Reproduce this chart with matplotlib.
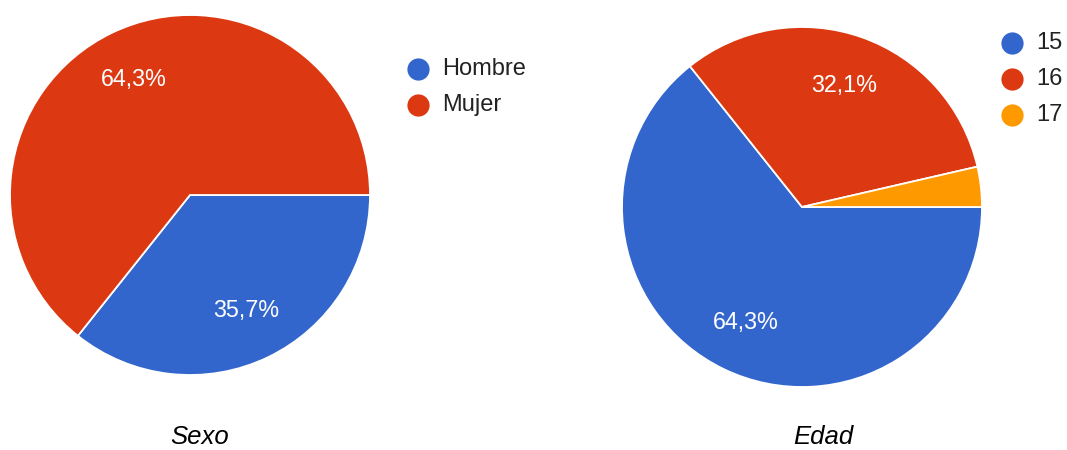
import matplotlib
matplotlib.use("Agg")
import matplotlib.pyplot as plt

sexo_labels = ["Hombre", "Mujer"]
sexo_values = [35.7, 64.3]
edad_labels = ["15", "16", "17"]
edad_values = [64.3, 32.1, 3.6]
titles = ["Sexo", "Edad"]
colors = ["#3366CC", "#DC3912", "#FF9900"]

W, H = 1067, 450
fig = plt.figure(figsize=(W / 100, H / 100), dpi=100)
plt.rcParams['font.family'] = ['Liberation Sans', 'DejaVu Sans']

def fx(x):
    return x / W

def fy(y):
    return 1 - y / H

def pct(v):
    return (f"{v:.1f}".replace(".", ",") + "%") if v >= 5 else ""

def draw_pie(cx, cy, r, values, labels, title, tx, ty, lx, ly0, ldy):
    ax = fig.add_axes([fx(cx - r), fy(cy + r), 2 * r / W, 2 * r / H])
    wedges, texts, autotexts = ax.pie(
        values, colors=colors[:len(values)], startangle=0, counterclock=False,
        autopct=pct, pctdistance=0.715,
        wedgeprops=dict(edgecolor="white", linewidth=1.3),
        textprops=dict(color="white", fontsize=16.8))
    ax.set_xlim(-1, 1)
    ax.set_ylim(-1, 1)
    ax.set_aspect("auto")
    ax.axis("off")
    for i, lab in enumerate(labels):
        y = ly0 + i * ldy
        fig.lines.append(plt.Line2D([fx(lx)], [fy(y)], transform=fig.transFigure,
                                    marker="o", markersize=16, color=colors[i],
                                    markeredgewidth=0))
        fig.text(fx(lx + 24), fy(y), lab, fontsize=17, color="#222222",
                 va="center", ha="left")
    fig.text(fx(tx), fy(ty), title, fontsize=18.5, style="italic", color="black",
             ha="center", va="center")

draw_pie(190, 195, 180, sexo_values, sexo_labels, titles[0], 200, 437, 418, 69, 36)
draw_pie(802, 207, 180, edad_values, edad_labels, titles[1], 823, 437, 1012, 43, 36)

fig.savefig("out.png", dpi=100, facecolor="white")
